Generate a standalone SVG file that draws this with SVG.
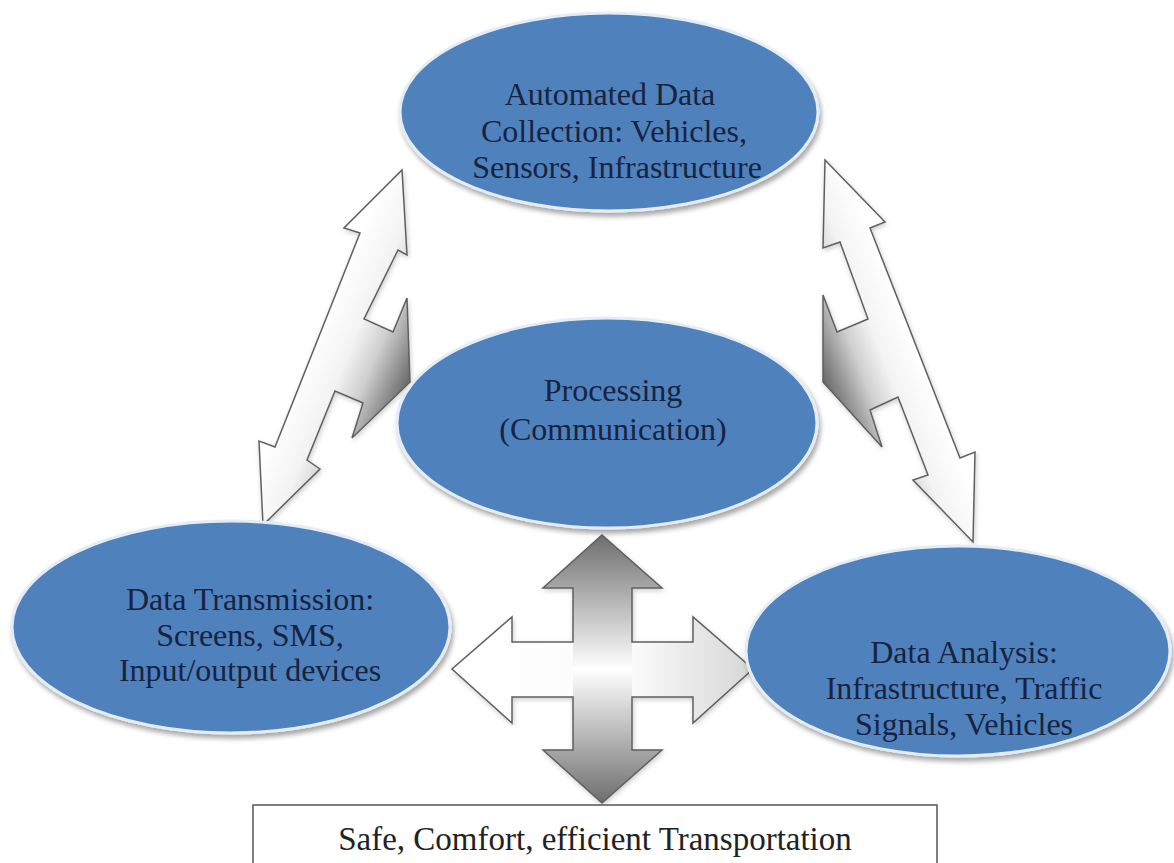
<svg xmlns="http://www.w3.org/2000/svg" width="1174" height="863" viewBox="0 0 1174 863">
  <style>
    .node ellipse { fill: #4f81bd; stroke: #e4ecf6; stroke-width: 3; filter: url(#shadow); }
    .lbl { font-family: 'Liberation Serif', 'DejaVu Serif', serif; font-size: 32px; fill: #17233f; text-anchor: middle; }
    .arrow { stroke: #5f5f5f; stroke-width: 1.5; stroke-linejoin: miter; }
    .outline { fill: none; stroke: #5f5f5f; stroke-width: 1.5; }
  </style>
  <defs>
    <filter id="shadow" x="-10%" y="-10%" width="125%" height="130%">
      <feDropShadow dx="2" dy="4" stdDeviation="2.5" flood-color="#000" flood-opacity="0.35"/>
    </filter>
    <filter id="ashadow" x="-20%" y="-20%" width="140%" height="140%">
      <feDropShadow dx="1" dy="2" stdDeviation="2.5" flood-color="#000" flood-opacity="0.2"/>
    </filter>
    <linearGradient id="gLeft" gradientUnits="userSpaceOnUse" x1="360" y1="233" x2="457.5" y2="275.4">
      <stop offset="0" stop-color="#ffffff"/>
      <stop offset="0.35" stop-color="#f3f3f3"/>
      <stop offset="0.6" stop-color="#cfcfcf"/>
      <stop offset="1" stop-color="#666666"/>
    </linearGradient>
    <linearGradient id="gRight" gradientUnits="userSpaceOnUse" x1="870" y1="228" x2="777" y2="264">
      <stop offset="0" stop-color="#ffffff"/>
      <stop offset="0.35" stop-color="#f3f3f3"/>
      <stop offset="0.6" stop-color="#cfcfcf"/>
      <stop offset="1" stop-color="#666666"/>
    </linearGradient>
    <linearGradient id="gVert" x1="0" y1="0" x2="0" y2="1">
      <stop offset="0" stop-color="#6e6e6e"/>
      <stop offset="0.5" stop-color="#ffffff"/>
      <stop offset="1" stop-color="#6e6e6e"/>
    </linearGradient>
    <linearGradient id="gHorz" x1="0" y1="0" x2="1" y2="0">
      <stop offset="0" stop-color="#ffffff"/>
      <stop offset="0.6" stop-color="#fbfbfb"/>
      <stop offset="1" stop-color="#d6d6d6"/>
    </linearGradient>
  </defs>

  <rect width="1174" height="863" fill="#ffffff"/>

  <g id="connectors">
    <polygon id="arrow-left" class="arrow" fill="url(#gLeft)" filter="url(#ashadow)"
      points="402,170 407,255 398,250 364,319 393,332 407,298 410,382 352,438 363,403 335,391 307,460 320,469 263,525 259,441 275,447 360,233 344,228"/>
    <polygon id="arrow-right" class="arrow" fill="url(#gRight)" filter="url(#ashadow)"
      points="825,160 885,222 870,228 960,458 975,452 973,542 913,480 928,475 898,397 870,410 882,447 823,382 823,295 837,332 868,319 840,242 823,248"/>
    <g id="arrow-cross" filter="url(#ashadow)">
      <polygon fill="url(#gHorz)" points="452,669 512,617 512,642 693,642 693,617 753,669 693,723 693,697 512,697 512,723"/>
      <polygon fill="url(#gVert)" points="602,535 662,588 632,588 632,750 662,750 602,803 543,750 573,750 573,588 543,588"/>
      <polygon class="outline" points="602,535 662,588 632,588 632,642 693,642 693,617 753,669 693,723 693,697 632,697 632,750 662,750 602,803 543,750 573,750 573,697 512,697 512,723 452,669 512,617 512,642 573,642 573,588 543,588"/>
    </g>
  </g>

  <g id="node-collection" class="node">
    <ellipse cx="609" cy="112" rx="209" ry="99"/>
    <text class="lbl" x="610" y="105">Automated Data</text>
    <text class="lbl" x="614" y="142">Collection: Vehicles,</text>
    <text class="lbl" x="617" y="178">Sensors, Infrastructure</text>
  </g>

  <g id="node-processing" class="node">
    <ellipse cx="607" cy="423" rx="210" ry="105"/>
    <text class="lbl" x="613" y="401">Processing</text>
    <text class="lbl" x="613" y="440">(Communication)</text>
  </g>

  <g id="node-transmission" class="node">
    <ellipse cx="231" cy="627" rx="219" ry="106"/>
    <text class="lbl" x="250" y="610">Data Transmission:</text>
    <text class="lbl" x="250" y="646">Screens, SMS,</text>
    <text class="lbl" x="250" y="681">Input/output devices</text>
  </g>

  <g id="node-analysis" class="node">
    <ellipse cx="958" cy="651" rx="212" ry="105"/>
    <text class="lbl" x="964" y="663">Data Analysis:</text>
    <text class="lbl" x="964" y="699">Infrastructure, Traffic</text>
    <text class="lbl" x="964" y="735">Signals, Vehicles</text>
  </g>

  <g id="node-outcome">
    <rect x="253" y="805" width="684" height="80" fill="#ffffff" stroke="#555555" stroke-width="1.5"/>
    <text class="lbl" x="595" y="850" style="fill:#222222;font-size:33px">Safe, Comfort, efficient Transportation</text>
  </g>
</svg>
